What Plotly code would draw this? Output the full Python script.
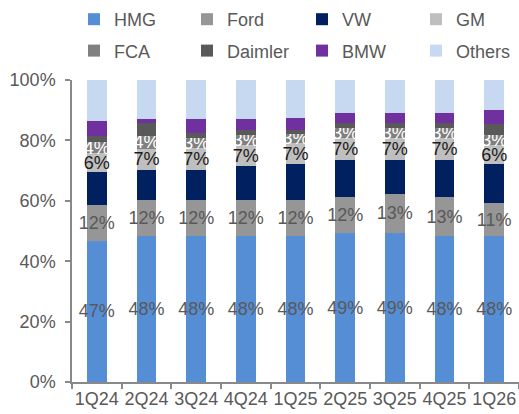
import plotly.graph_objects as go

quarters = ["1Q24", "2Q24", "3Q24", "4Q24", "1Q25", "2Q25", "3Q25", "4Q25", "1Q26"]

hmg     = [46.8, 48.2, 48.2, 48.2, 48.2, 49.3, 49.3, 48.2, 48.2]
ford    = [11.9, 12.2, 12.2, 12.2, 12.2, 11.9, 13.1, 13.0, 11.1]
vw      = [10.7,  9.9,  9.9, 11.0, 11.8, 12.2, 11.0, 12.2, 12.8]
gm      = [ 6.3,  7.0,  7.3,  7.2,  6.9,  7.3,  7.3,  7.3,  6.4]
fca     = [ 3.9,  4.2,  3.3,  3.3,  3.1,  3.4,  3.4,  3.4,  3.4]
daimler = [ 2.0,  4.2,  1.6,  1.4,  1.1,  1.5,  1.5,  1.5,  3.6]
bmw     = [ 4.8,  1.5,  4.6,  3.8,  4.1,  3.6,  3.6,  3.6,  4.7]
others  = [13.6, 12.8, 12.9, 12.9, 12.6, 10.8, 10.8, 10.8,  9.8]

y_ticks = [0, 20, 40, 60, 80, 100]
y_tick_labels = ["0%", "20%", "40%", "60%", "80%", "100%"]

# name, values, colour, show label, label colour, legend column
series = [
    ("HMG", hmg, "#558ED5", True, "#595959", "legend"),
    ("Ford", ford, "#969696", True, "#595959", "legend2"),
    ("VW", vw, "#002060", False, None, "legend3"),
    ("GM", gm, "#BFBFBF", True, "#1a1a1a", "legend4"),
    ("FCA", fca, "#808080", True, "#ffffff", "legend"),
    ("Daimler", daimler, "#595959", False, None, "legend2"),
    ("BMW", bmw, "#7030A0", False, None, "legend3"),
    ("Others", others, "#C6D9F1", False, None, "legend4"),
]

FONT = "Liberation Sans, Arial, sans-serif"

fig = go.Figure()
for name, vals, color, show_lbl, lbl_color, lg in series:
    kw = {}
    if show_lbl:
        kw = dict(
            texttemplate="%{y:.0f}%",
            textposition="inside",
            insidetextanchor="middle",
            textangle=0,
            constraintext="none",
            insidetextfont=dict(family=FONT, size=18, color=lbl_color),
        )
    fig.add_trace(go.Bar(
        name=name, x=quarters, y=vals,
        marker=dict(color=color, line=dict(width=0)),
        legend=lg, legendgroup=name, hoverinfo="x+y+name",
        **kw,
    ))

legend_common = dict(
    orientation="v", xanchor="left", yanchor="top",
    xref="container", yref="container",
    font=dict(family=FONT, size=18, color="#595959"),
    tracegroupgap=5,
    bgcolor="rgba(0,0,0,0)", traceorder="grouped",
)
legend_top = 1 - 1 / 414
col_left = [74, 187, 302, 416]

fig.update_layout(
    width=519, height=414,
    margin=dict(l=72, r=0, t=80, b=32, autoexpand=False),
    barmode="stack",
    bargap=0.6,
    plot_bgcolor="white",
    paper_bgcolor="white",
    font=dict(family=FONT, size=18, color="#595959"),
    legend=dict(x=col_left[0] / 519, y=legend_top, **legend_common),
    legend2=dict(x=col_left[1] / 519, y=legend_top, **legend_common),
    legend3=dict(x=col_left[2] / 519, y=legend_top, **legend_common),
    legend4=dict(x=col_left[3] / 519, y=legend_top, **legend_common),
    xaxis=dict(
        type="category",
        range=[-0.5, 8.5],
        showline=True, linecolor="#898989", linewidth=1.5,
        ticks="outside", ticklen=5, tickcolor="#898989", tickwidth=1.5,
        tickson="boundaries",
        tickangle=0,
        tickfont=dict(family=FONT, size=18, color="#595959"),
        showgrid=False,
    ),
    yaxis=dict(
        range=[0, 100],
        tickvals=y_ticks,
        ticktext=y_tick_labels,
        showline=True, linecolor="#898989", linewidth=1.5,
        ticks="outside", ticklen=5, tickcolor="#898989", tickwidth=1.5,
        tickfont=dict(family=FONT, size=18, color="#595959"),
        ticklabelstandoff=6,
        showgrid=False, zeroline=False,
    ),
)

fig.write_html(
    "out.html",
    config={"displayModeBar": False},
    post_script="document.body.style.margin='0';document.body.style.padding='0';",
)
